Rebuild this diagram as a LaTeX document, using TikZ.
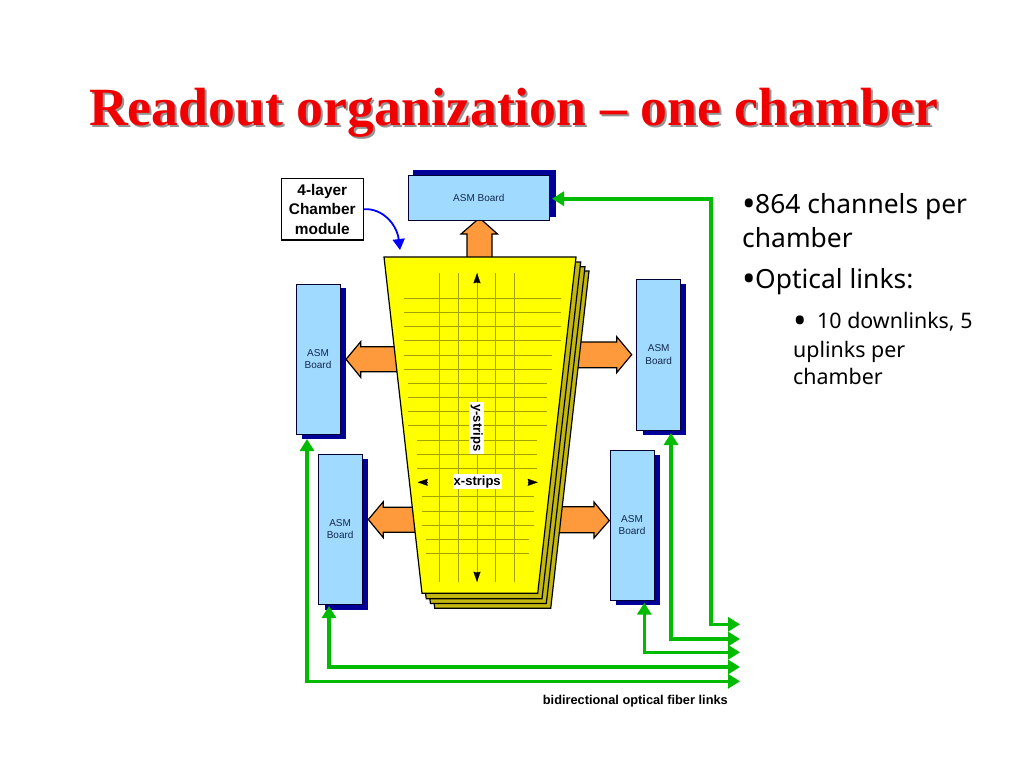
\documentclass[tikz,border=0pt]{standalone}
\usepackage{fontspec}
\setmainfont{Liberation Sans}
\newfontfamily\titlefont{Liberation Serif}
\newfontfamily\bodyfont{Noto Sans}
\usetikzlibrary{arrows.meta}
\definecolor{boardblue}{HTML}{A0DAFF}
\definecolor{boardshade}{HTML}{000099}
\definecolor{blockorange}{HTML}{FF9A3C}
\definecolor{sheetback}{HTML}{C2B80F}
\definecolor{sheetyellow}{RGB}{255,255,0}
\definecolor{gridline}{HTML}{A3A300}
\definecolor{fibergreen}{HTML}{00BB00}
\definecolor{labelnavy}{HTML}{14284E}
\definecolor{titlered}{HTML}{F00000}
\newcommand{\bigbul}[2]{{\fontsize{36}{36}\selectfont\raisebox{#1}{•}}\hspace{#2}}
\tikzset{
  board/.style={draw=black!80!blue,line width=0.9pt,fill=boardblue,inner sep=0pt,align=center,
    text=labelnavy,font=\fontsize{10}{12.3}\selectfont},
  shade box/.style={fill=boardshade,inner sep=0pt},
  block/.style={draw=black,line width=1.2pt,fill=blockorange,line join=miter},
  sheet/.style={draw=black,line width=1.2pt,fill=sheetyellow,line join=miter},
  backsheet/.style={draw=black,line width=1.2pt,fill=sheetback,line join=miter},
  gridl/.style={draw=gridline,line width=0.6pt},
  fiber both/.style={draw=fibergreen,line width=3.6pt,line join=miter,
    {Triangle[length=12pt,width=14pt]}-{Triangle[length=12pt,width=14pt]}},
  striphead/.style={line width=0.1pt,-{Stealth[length=10pt,width=7pt,inset=1pt,black]}},
  striplabel/.style={fill=white,inner sep=0pt,font=\fontsize{13}{14}\selectfont\bfseries},
  boldlabel/.style={inner sep=0pt,font=\fontsize{15.4}{19.5}\selectfont\bfseries,align=center},
  titletext/.style={inner sep=0pt,anchor=base,font=\fontsize{53.8}{60}\selectfont\titlefont\bfseries},
  bodybig/.style={inner sep=0pt,anchor=base west,font=\fontsize{26.4}{32}\selectfont\bodyfont},
  bodysmall/.style={inner sep=0pt,anchor=base west,font=\fontsize{21.4}{26}\selectfont\bodyfont},
}
\begin{document}
\begin{tikzpicture}[x=1pt,y=-1pt]
\useasboundingbox (0,0) rectangle (1024,768);
\fill[white] (0,0) rectangle (1024,768);

% title
\node[titletext,text=black!42] (titleshadow) at (515.5,127) {Readout organization – one chamber};
\node[titletext,text=titlered] (title) at (513.5,125) {Readout organization – one chamber};

% block arrows (behind the sheets)
\draw[block] (467,258) -- (467,234) -- (461,234) -- (479.5,218) -- (497.5,234) -- (492,234) -- (492,258);
\draw[block] (400,346.7) -- (360.7,346.7) -- (360.7,341.7) -- (346,359.3) -- (360.7,377.3) -- (360.7,371.7) -- (400,371.7);
\draw[block] (420,507.3) -- (383.3,507.3) -- (383.3,501.7) -- (368.3,519.5) -- (383.3,537.7) -- (383.3,532.3) -- (420,532.3);
\draw[block] (575,342) -- (616.7,342) -- (616.7,336.7) -- (631.7,354.7) -- (616.7,372.7) -- (616.7,367.7) -- (575,367.7);
\draw[block] (552,506.7) -- (594,506.7) -- (594,502) -- (609.3,520.5) -- (594,538) -- (594,532.7) -- (552,532.7);

% chamber layers
\draw[backsheet] (397,271) -- (589,271) -- (550.7,608.3) -- (434.7,608.3) -- cycle;
\draw[backsheet] (393,266.7) -- (585,266.7) -- (546.3,603.4) -- (430.4,603.4) -- cycle;
\draw[backsheet] (388.5,262) -- (580.7,262) -- (542,598.7) -- (426.2,598.7) -- cycle;
\draw[sheet] (384,257) -- (576,257) -- (537.7,593.3) -- (422,593.3) -- cycle;

% grid
\foreach \gx in {439.3,458.3,477,495.7,514.3} \draw[gridl] (\gx,273) -- (\gx,582);
\foreach \gy in {298.3,312.3,326.3,340.3} \draw[gridl] (404,\gy) -- (560.7,\gy);
\foreach \gy in {355,369.3} \draw[gridl] (404,\gy) -- (552,\gy);
\foreach \gy in {383.5,397.5,411.7,425.7} \draw[gridl] (408.3,\gy) -- (546.7,\gy);
\foreach \gy in {440,454.3,468.3} \draw[gridl] (417,\gy) -- (537,\gy);
\foreach \gy in {496.7,511,525.3} \draw[gridl] (421.7,\gy) -- (534,\gy);
\foreach \gy in {539.3,553.3} \draw[gridl] (426,\gy) -- (529,\gy);

% strip axes
\coordinate (ytop) at (477,273.3);
\coordinate (ybot) at (477,581.7);
\coordinate (xleft) at (417.7,482.3);
\coordinate (xright) at (537.7,482.3);
\draw[striphead] ([yshift=-10pt]ytop) -- (ytop);
\draw[striphead] ([yshift=10pt]ybot) -- (ybot);
\draw[striphead] ([xshift=10pt]xleft) -- (xleft);
\draw[striphead] ([xshift=-10pt]xright) -- (xright);
\node[striplabel,minimum width=49pt,minimum height=14.7pt] (xs) at (477.2,481.7) {x-strips};
\node[striplabel,rotate=-90,minimum width=52.3pt,minimum height=15pt] (ys) at (476.8,427.8) {y-strips};

% boards
\node[shade box,minimum width=143.3pt,minimum height=46.7pt] (topS) at (484.35,193.35) {};
\node[board,minimum width=141pt,minimum height=44.3pt,text depth=0pt] (top) at (478.8,197.85) {\raisebox{-1pt}{ASM Board}};
\node[shade box,minimum width=43.7pt,minimum height=150.7pt] (l1S) at (324.15,363.65) {};
\node[board,minimum width=44pt,minimum height=150pt] (l1) at (318,359) {ASM\\Board};
\node[shade box,minimum width=43.3pt,minimum height=150.7pt] (l2S) at (346.35,534.35) {};
\node[board,minimum width=43.7pt,minimum height=150pt] (l2) at (340.15,529.3) {ASM\\Board};
\node[shade box,minimum width=43pt,minimum height=151pt] (r1S) at (664.5,359.5) {};
\node[board,minimum width=44pt,minimum height=150.7pt] (r1) at (658.7,354.65) {ASM\\Board};
\node[shade box,minimum width=43.7pt,minimum height=150pt] (r2S) at (638.15,530) {};
\node[board,minimum width=44pt,minimum height=150pt] (r2) at (632,525) {ASM\\Board};

% chamber label and pointer
\node[draw=black,line width=1.2pt,fill=white,minimum width=82pt,minimum height=61.7pt,boldlabel] (chamber) at (322.3,209.2) {4-layer\\Chamber\\module};
\coordinate (chambertip) at (400,250);
\draw[draw=blue,line width=1.8pt,-{Triangle[length=11pt,width=12pt]}] (chamber.east) .. controls (383,208) and (397,225) .. (chambertip);

% fibre links
\coordinate (e1) at (740,624.3);
\coordinate (e2) at (740,639);
\coordinate (e3) at (740,652.3);
\coordinate (e4) at (740,667);
\coordinate (e5) at (740,681.3);
\coordinate (c1a) at (711,198.7);
\coordinate (c1b) at (711,624.3);
\coordinate (c2) at (671,639);
\coordinate (c3) at (644.3,652.3);
\coordinate (c4) at (329,667);
\coordinate (c5) at (307,681.3);
\coordinate (t1) at (552,198.7);
\coordinate (t2) at (671,433);
\coordinate (t3) at (644.3,602.7);
\coordinate (t4) at (329,606);
\coordinate (t5) at (307,439);
\draw[fiber both] (t1) -- (c1a) -- (c1b) -- (e1);
\draw[fiber both] (t2) -- (c2) -- (e2);
\draw[fiber both] (t3) -- (c3) -- (e3);
\draw[fiber both] (t4) -- (c4) -- (e4);
\draw[fiber both] (t5) -- (c5) -- (e5);
\node[inner sep=0pt,font=\fontsize{12.8}{14}\selectfont\bfseries,anchor=base east] (fiberlabel) at (728,704) {bidirectional optical fiber links};

% bullets
\node[bodybig] (b1) at (742,213) {\bigbul{-3.2pt}{-0.5pt}864 channels per};
\node[bodybig] (b1b) at (742,247) {chamber};
\node[bodybig] (b2) at (742,288) {\bigbul{-3.2pt}{-0.5pt}Optical links:};
\node[bodysmall] (b3) at (793,328) {\bigbul{-5.2pt}{10.5pt}10 downlinks, 5};
\node[bodysmall] (b3b) at (793,357) {uplinks per};
\node[bodysmall] (b3c) at (793,384) {chamber};
\end{tikzpicture}
\end{document}
